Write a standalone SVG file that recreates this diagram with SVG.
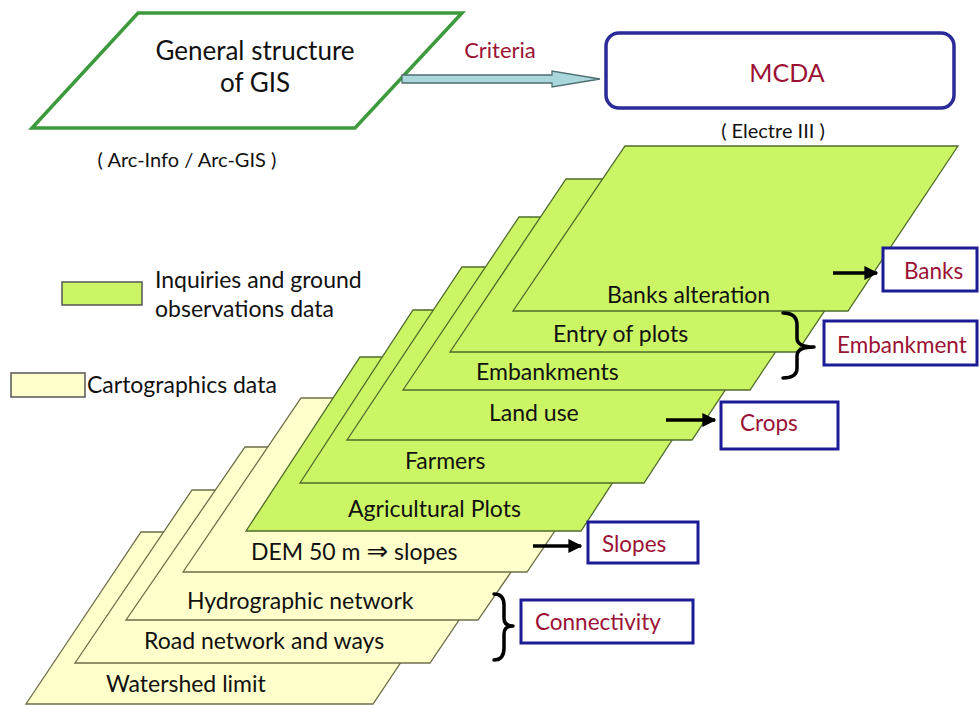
<svg xmlns="http://www.w3.org/2000/svg" width="979" height="705" viewBox="0 0 979 705">
<defs>
<style>
.t{font-family:Lato,"Liberation Sans",sans-serif;fill:#111}
.lt{font-family:Lato,"Liberation Sans",sans-serif;font-size:23px;fill:#111}
.g{fill:#ccf566;stroke:#4f6b2c;stroke-width:1.3}
.y{fill:#ffffcc;stroke:#6e6e48;stroke-width:1.3}
.lab{fill:#fff;stroke:#1c1c96;stroke-width:3}
.lbt{font-family:Lato,"Liberation Sans",sans-serif;font-size:22.5px;fill:#9b1235}
.br{fill:none;stroke:#000;stroke-width:3.5;stroke-linecap:round;stroke-linejoin:round}
.ar{stroke:#000;stroke-width:3.5}
</style>
<marker id="ah" viewBox="0 0 10 10" refX="9" refY="5" markerWidth="4" markerHeight="4" orient="auto" markerUnits="strokeWidth">
<path d="M0,0 L10,5 L0,10 z" fill="#000"/>
</marker>
</defs>
<rect width="979" height="705" fill="#fff"/>

<g id="gis">
<polygon points="138,13 462,13 355,128 32,128" fill="#fff" stroke="#3c9a3c" stroke-width="3.5"/>
<text class="t" x="255" y="60" font-size="26" text-anchor="middle">General structure</text>
<text class="t" x="255" y="92" font-size="26" text-anchor="middle">of GIS</text>
<text class="t" x="187" y="167" font-size="20" text-anchor="middle">( Arc-Info / Arc-GIS )</text>
</g>

<g id="mcda">
<rect x="606" y="33" width="348" height="75" rx="13" fill="#fff" stroke="#2a2a98" stroke-width="3.5"/>
<text class="t" x="787" y="82" font-size="25" text-anchor="middle" style="fill:#9b1235">MCDA</text>
<text class="t" x="773" y="138" font-size="20" text-anchor="middle">( Electre III )</text>
</g>

<g id="legend">
<rect x="62" y="282" width="80" height="23" fill="#ccf566" stroke="#555" stroke-width="1.5"/>
<text class="t" x="155" y="288" font-size="23">Inquiries and ground</text>
<text class="t" x="155" y="317" font-size="23">observations data</text>
<rect x="11" y="373" width="74" height="24" fill="#ffffcc" stroke="#555" stroke-width="1.5"/>
<text class="t" x="87" y="393" font-size="23">Cartographics data</text>
</g>

<g id="layer-watershed">
<polygon class="y" points="141,532 488,532 373,704 26,704"/>
<text class="lt" x="106" y="692">Watershed limit</text>
</g>
<g id="layer-road">
<polygon class="y" points="192,490 547,490 430,663 75,663"/>
<text class="lt" x="144" y="649">Road network and ways</text>
</g>
<g id="layer-hydro">
<polygon class="y" points="245,447 597,447 478,620 126,620"/>
<text class="lt" x="187" y="609">Hydrographic network</text>
</g>
<g id="layer-dem">
<polygon class="y" points="301,398 645,398 527,572 183,572"/>
<text class="lt" x="251" y="560">DEM 50 m <tspan font-family="DejaVu Sans" font-size="26">⇒</tspan> slopes</text>
</g>
<g id="layer-agri">
<polygon class="g" points="360,357 695,357 581,531 246,531"/>
<text class="lt" x="348" y="517">Agricultural Plots</text>
</g>
<g id="layer-farmers">
<polygon class="g" points="413,310 757,310 644,483 300,483"/>
<text class="lt" x="405" y="469">Farmers</text>
</g>
<g id="layer-landuse">
<polygon class="g" points="462,267 807,267 692,440 347,440"/>
<text class="lt" x="489" y="421">Land use</text>
</g>
<g id="layer-embankments">
<polygon class="g" points="519,217 866,217 750,390 403,390"/>
<text class="lt" x="476" y="380">Embankments</text>
</g>
<g id="layer-entry">
<polygon class="g" points="566,179 913,179 797,352 450,352"/>
<text class="lt" x="553" y="342">Entry of plots</text>
</g>
<g id="layer-banks">
<polygon class="g" points="625,146 958,146 848,311 513,311"/>
<text class="lt" x="607" y="303">Banks alteration</text>
</g>

<g id="label-banks">
<rect class="lab" x="883" y="248" width="94" height="43"/>
<text class="lbt" x="904" y="279">Banks</text>
</g>
<g id="label-embankment">
<rect class="lab" x="824" y="321" width="153" height="44"/>
<text class="lbt" x="837" y="353">Embankment</text>
</g>
<g id="label-crops">
<rect class="lab" x="721" y="402" width="117" height="47"/>
<text class="lbt" x="740" y="431">Crops</text>
</g>
<g id="label-slopes">
<rect class="lab" x="588" y="522" width="110" height="41"/>
<text class="lbt" x="602" y="552">Slopes</text>
</g>
<g id="label-connectivity">
<rect class="lab" x="521" y="600" width="172" height="43"/>
<text class="lbt" x="535" y="630">Connectivity</text>
</g>

<g id="connectors">
<polygon points="402,75 552,75 552,71 600,79 552,87 552,83 402,83" fill="#a9d7dc" stroke="#4f6e72" stroke-width="1.3"/>
<text x="500" y="58" font-family="Lato,'Liberation Sans',sans-serif" font-size="22" fill="#9b1235" text-anchor="middle">Criteria</text>
<line class="ar" x1="833" y1="273" x2="877" y2="273" marker-end="url(#ah)"/>
<line class="ar" x1="666" y1="420" x2="715" y2="420" marker-end="url(#ah)"/>
<line class="ar" x1="533" y1="546" x2="581" y2="546" marker-end="url(#ah)"/>
<path class="br" d="M783,313 Q797,313 797,325 L797,338 Q797,347 814,347 Q797,347 797,356 L797,368 Q797,378 783,378"/>
<path class="br" d="M494,594 Q504,594 504,605 L504,618 Q504,626 513,626 Q504,626 504,634 L504,648 Q504,660 494,660"/>
</g>
</svg>
